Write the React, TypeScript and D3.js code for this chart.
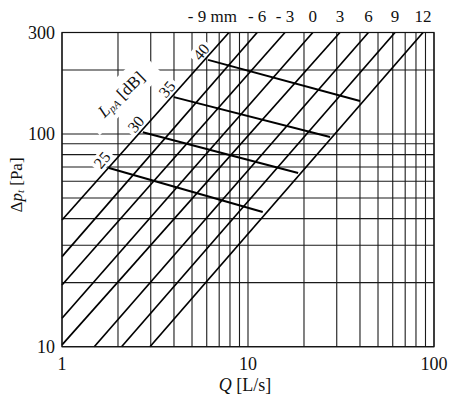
import * as d3 from "d3";

// grid + ticks
const qGrid = [1, 2, 3, 4, 5, 6, 7, 8, 9, 10, 20, 30, 40, 50, 60, 70, 80, 90, 100];
const dpGrid = [10, 20, 30, 40, 50, 60, 70, 80, 90, 100, 200, 300];
const qTicks = [1, 10, 100];
const dpTicks = [10, 100, 300];

// slot width lines (mm), each from a start point to an end point [Q, dp]
const slotLabels = ["- 9 mm", "- 6", "- 3", "0", "3", "6", "9", "12"];
const slotStart = [[1, 39.4], [1, 26.5], [1, 19.5], [1, 13.6], [1, 10.2], [1.49, 10], [2.09, 10], [2.97, 10]];
const slotEnd = [[7.9, 300], [11.2, 300], [15.8, 300], [22.3, 300], [31.2, 300], [44.4, 300], [61.7, 300], [87.3, 300]];

// sound level lines (dB)
const levelLabels = ["25", "30", "35", "40"];
const levelStart = [[1.79, 69.2], [2.72, 102], [4.0, 149], [6.1, 223]];
const levelEnd = [[12.0, 43.0], [18.6, 65.6], [27.6, 96.8], [40.0, 143]];

export default function App() {
  const width = 452;
  const height = 402;
  const margin = { top: 32.5, right: 18, bottom: 55.3, left: 62 };
  const font = "'Liberation Serif', 'Times New Roman', serif";

  const x = d3.scaleLog().domain([1, 100]).range([margin.left, width - margin.right]);
  const y = d3.scaleLog().domain([10, 300]).range([height - margin.bottom, margin.top]);
  const line = d3.line<number[]>().x((d) => x(d[0])).y((d) => y(d[1]));

  const x0 = x(1), x1 = x(100), y0 = y(10), y1 = y(300);

  return (
    <svg
      width={width}
      height={height}
      style={{ position: "absolute", left: 0, top: 0, background: "#fff" }}
      fontFamily={font}
    >
      <rect width={width} height={height} fill="#fff" />

      {/* grid */}
      <g stroke="#1a1a1a" strokeWidth={1.1}>
        {qGrid.map((q) => (
          <line key={"v" + q} x1={x(q)} x2={x(q)} y1={y0} y2={y1} />
        ))}
        {dpGrid.map((p) => (
          <line key={"h" + p} x1={x0} x2={x1} y1={y(p)} y2={y(p)} />
        ))}
      </g>

      {/* label masks */}
      <g fill="#fff">
        <rect x={-44} y={-15} width={88} height={30} transform="translate(121,94) rotate(-44)" />
        {levelLabels.map((l, i) => {
          const px = x(levelStart[i][0]) - 7;
          const py = y(levelStart[i][1]) - 8;
          return (
            <rect key={l} x={-11} y={-8} width={22} height={16}
              transform={`translate(${px},${py}) rotate(-50)`} />
          );
        })}
      </g>

      {/* slot lines */}
      <g stroke="#000" strokeWidth={1.7} fill="none">
        {slotLabels.map((l, i) => (
          <path key={l} d={line([slotStart[i], slotEnd[i]]) ?? ""} />
        ))}
      </g>

      {/* level lines */}
      <g stroke="#000" strokeWidth={2} fill="none">
        {levelLabels.map((l, i) => (
          <path key={l} d={line([levelStart[i], levelEnd[i]]) ?? ""} />
        ))}
      </g>

      {/* frame */}
      <rect x={x0} y={y1} width={x1 - x0} height={y0 - y1} fill="none" stroke="#111" strokeWidth={1.2} />

      {/* slot labels */}
      <g fontSize={17} fill="#111">
        {slotLabels.map((l, i) => {
          const tx = x(slotEnd[i][0]);
          return i === 0 ? (
            <text key={l} x={tx + 8} y={22} textAnchor="end">{l}</text>
          ) : (
            <text key={l} x={tx} y={22} textAnchor="middle">{l}</text>
          );
        })}
      </g>

      {/* level labels */}
      <g fontSize={16} fill="#111">
        {levelLabels.map((l, i) => {
          const px = x(levelStart[i][0]) - 7;
          const py = y(levelStart[i][1]) - 8;
          return (
            <text key={l} transform={`translate(${px},${py}) rotate(-50)`}
              textAnchor="middle" dominantBaseline="central">{l}</text>
          );
        })}
        <text transform="translate(121,94) rotate(-44)" textAnchor="middle"
          dominantBaseline="central" fontSize={17}>
          <tspan fontStyle="italic">L</tspan>
          <tspan fontStyle="italic" fontSize={11} dy={4}>pA</tspan>
          <tspan dy={-4}> [dB]</tspan>
        </text>
      </g>

      {/* axis tick labels */}
      <g fontSize={18} fill="#111">
        {qTicks.map((q) => (
          <text key={"qt" + q} x={x(q)} y={370} textAnchor="middle">{q}</text>
        ))}
        {dpTicks.map((p) => (
          <text key={"pt" + p} x={55} y={y(p) + 6} textAnchor="end">{p}</text>
        ))}
      </g>

      {/* axis titles */}
      <text x={(x0 + x1) / 2 - 3} y={391} textAnchor="middle" fontSize={18} fill="#111">
        <tspan fontStyle="italic">Q</tspan> [L/s]
      </text>
      <text transform="translate(16,185) rotate(-90)" textAnchor="middle"
        dominantBaseline="central" fontSize={17} fill="#111">
        Δ<tspan fontStyle="italic">p</tspan>
        <tspan fontStyle="italic" fontSize={11} dy={4}>t</tspan>
        <tspan dy={-4}> [Pa]</tspan>
      </text>
    </svg>
  );
}
